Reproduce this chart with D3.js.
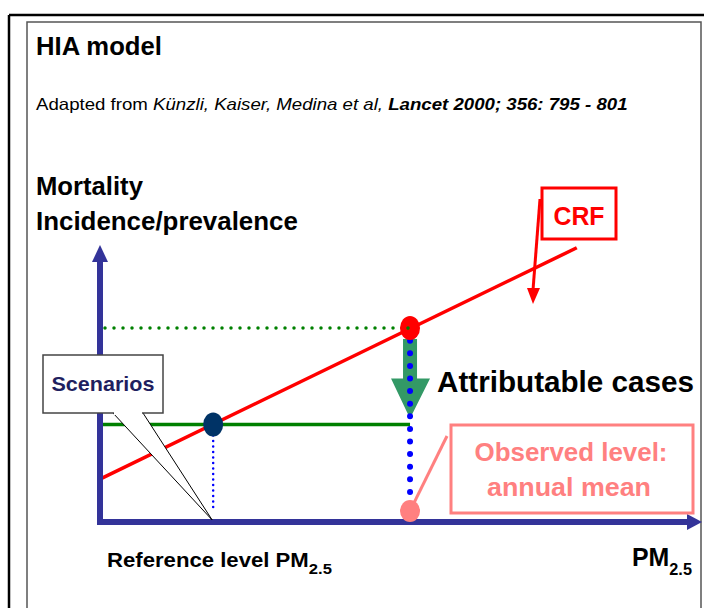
<!DOCTYPE html>
<html>
<head>
<meta charset="utf-8">
<script src="https://cdn.jsdelivr.net/npm/d3@7.9.0/dist/d3.min.js"></script>
<style>
  body { margin: 0; background: #fff; }
  svg text { font-family: "Liberation Sans", Arial, sans-serif; }
</style>
</head>
<body>
<svg id="chart"></svg>
<script>
// Data (schematic units: PM2.5 on x, health outcome on y, both 0-100)
const crfLine = [[0, 15.5], [79.2, 99]];          // concentration-response function
const referencePoint = [18.8, 35.2];               // reference level PM2.5 on the CRF
const observedPoint = [51.5, 70];                  // observed annual mean on the CRF
const observedBase = [51.5, 4];                    // observed level marker on the x axis
const axisMax = [100, 100];

const W = 704, H = 608;
const svg = d3.select("#chart").attr("width", W).attr("height", H);

// squeeze / stretch a text horizontally so it spans w pixels from its x
function fitWidth(t, w) {
    const x0 = +t.attr("x");
    const cur = t.node().getComputedTextLength();
    const sx = w / cur;
    t.attr("transform", `translate(${x0},0) scale(${sx},1) translate(${-x0},0)`);
    return t;
}

// Frame
svg.append("line").attr("x1", 9).attr("y1", 15).attr("x2", W).attr("y2", 15)
    .attr("stroke", "#000").attr("stroke-width", 2.5);
svg.append("line").attr("x1", 9).attr("y1", 15).attr("x2", 9).attr("y2", H)
    .attr("stroke", "#000").attr("stroke-width", 2.5);
svg.append("rect").attr("x", 27).attr("y", 22).attr("width", 674).attr("height", 600)
    .attr("fill", "none").attr("stroke", "#555").attr("stroke-width", 1.5);

// Scales
const x = d3.scaleLinear().domain([0, axisMax[0]]).range([100, 702]);
const y = d3.scaleLinear().domain([0, axisMax[1]]).range([522, 245]);

const axisColor = "#333399";

// Titles
fitWidth(svg.append("text").attr("x", 36).attr("y", 55)
    .style("font-size", "25px").style("font-weight", "bold")
    .text("HIA model"), 126);

const sub = svg.append("text").attr("x", 36).attr("y", 110).style("font-size", "16.5px");
sub.append("tspan").text("Adapted from ");
sub.append("tspan").style("font-style", "italic").text("Künzli, Kaiser, Medina et al, ");
sub.append("tspan").style("font-style", "italic").style("font-weight", "bold")
    .text("Lancet 2000; 356: 795 - 801");
fitWidth(sub, 592);

fitWidth(svg.append("text").attr("x", 36).attr("y", 195)
    .style("font-size", "25px").style("font-weight", "bold").text("Mortality"), 107);
fitWidth(svg.append("text").attr("x", 36).attr("y", 230)
    .style("font-size", "25px").style("font-weight", "bold").text("Incidence/prevalence"), 262);

// Guide lines
svg.append("line")
    .attr("x1", x(0) + 5).attr("y1", y(observedPoint[1]))
    .attr("x2", x(observedPoint[0])).attr("y2", y(observedPoint[1]))
    .attr("stroke", "#008000").attr("stroke-width", 3.5)
    .attr("stroke-linecap", "round").attr("stroke-dasharray", "0 9");

svg.append("line")
    .attr("x1", x(0)).attr("y1", y(referencePoint[1]))
    .attr("x2", x(observedPoint[0])).attr("y2", y(referencePoint[1]))
    .attr("stroke", "#008000").attr("stroke-width", 3.5);

// Green "attributable" arrow
const ax = x(observedPoint[0]);
const aTop = y(observedPoint[1]) + 11, aTip = y(referencePoint[1]) - 6;
const headY = aTip - 40;
svg.append("path")
    .attr("d", `M${ax - 7},${aTop} L${ax + 7},${aTop} L${ax + 7},${headY} L${ax + 20},${headY}
                L${ax},${aTip} L${ax - 19},${headY} L${ax - 7},${headY} Z`)
    .attr("fill", "#339966");

// Blue dotted verticals
svg.append("line")
    .attr("x1", x(referencePoint[0])).attr("y1", y(referencePoint[1]))
    .attr("x2", x(referencePoint[0])).attr("y2", y(0) - 10)
    .attr("stroke", "#0000ff").attr("stroke-width", 2.5)
    .attr("stroke-linecap", "round").attr("stroke-dasharray", "0 5.5");
svg.append("line")
    .attr("x1", x(observedPoint[0])).attr("y1", y(observedPoint[1]))
    .attr("x2", x(observedPoint[0])).attr("y2", y(observedBase[1]))
    .attr("stroke", "#0000ff").attr("stroke-width", 6)
    .attr("stroke-linecap", "round").attr("stroke-dasharray", "0 12.6");

// CRF line
svg.append("path")
    .datum(crfLine)
    .attr("d", d3.line().x(d => x(d[0])).y(d => y(d[1])))
    .attr("stroke", "#ff0000").attr("stroke-width", 3.5).attr("fill", "none");

// Axes
svg.append("line").attr("x1", x(0)).attr("y1", y(0)).attr("x2", x(0)).attr("y2", y(axisMax[1]) + 14)
    .attr("stroke", axisColor).attr("stroke-width", 6);
svg.append("path")
    .attr("d", `M${x(0)},${y(axisMax[1])} L${x(0) + 8},${y(axisMax[1]) + 17} L${x(0) - 8},${y(axisMax[1]) + 17} Z`)
    .attr("fill", axisColor);
svg.append("line").attr("x1", x(0) - 3).attr("y1", y(0)).attr("x2", x(axisMax[0]) - 12).attr("y2", y(0))
    .attr("stroke", axisColor).attr("stroke-width", 6);
svg.append("path")
    .attr("d", `M${x(axisMax[0])},${y(0)} L${x(axisMax[0]) - 15},${y(0) - 8} L${x(axisMax[0]) - 15},${y(0) + 8} Z`)
    .attr("fill", axisColor);

// Points
svg.append("ellipse").attr("cx", x(referencePoint[0])).attr("cy", y(referencePoint[1]))
    .attr("rx", 10).attr("ry", 12).attr("fill", "#003366");
svg.append("ellipse").attr("cx", x(observedPoint[0])).attr("cy", y(observedPoint[1]))
    .attr("rx", 10).attr("ry", 12).attr("fill", "#ff0000");
// Re-draw the guide dot over the red point
svg.append("circle").attr("cx", x(observedPoint[0]) - 2).attr("cy", y(observedPoint[1]))
    .attr("r", 1.8).attr("fill", "#008000");

// Observed level callout
svg.append("line").attr("x1", 447).attr("y1", 436).attr("x2", x(observedBase[0])).attr("y2", y(observedBase[1]))
    .attr("stroke", "#ff8080").attr("stroke-width", 3);
svg.append("ellipse").attr("cx", x(observedBase[0])).attr("cy", y(observedBase[1]))
    .attr("rx", 10).attr("ry", 11).attr("fill", "#ff8080");
svg.append("rect").attr("x", 451).attr("y", 425).attr("width", 242).attr("height", 88)
    .attr("fill", "#fff").attr("stroke", "#ff8080").attr("stroke-width", 3);
svg.append("text").attr("x", 571).attr("y", 461).attr("text-anchor", "middle")
    .style("font-size", "26px").style("font-weight", "bold").style("fill", "#ff8080")
    .attr("textLength", 193).attr("lengthAdjust", "spacingAndGlyphs").text("Observed level:");
svg.append("text").attr("x", 569).attr("y", 496).attr("text-anchor", "middle")
    .style("font-size", "26px").style("font-weight", "bold").style("fill", "#ff8080")
    .attr("textLength", 164).attr("lengthAdjust", "spacingAndGlyphs").text("annual mean");

// Attributable cases label
svg.append("text").attr("x", 437).attr("y", 392)
    .style("font-size", "30px").style("font-weight", "bold")
    .attr("textLength", 257).attr("lengthAdjust", "spacingAndGlyphs").text("Attributable cases");

// CRF callout
svg.append("line").attr("x1", 540).attr("y1", 199).attr("x2", 533).attr("y2", 290)
    .attr("stroke", "#ff0000").attr("stroke-width", 3);
svg.append("path").attr("d", "M527,288 L540,288 L533,304 Z").attr("fill", "#ff0000");
svg.append("rect").attr("x", 542).attr("y", 188).attr("width", 74).attr("height", 51)
    .attr("fill", "#fff").attr("stroke", "#ff0000").attr("stroke-width", 3);
svg.append("text").attr("x", 579).attr("y", 225).attr("text-anchor", "middle")
    .style("font-size", "26px").style("font-weight", "bold").style("fill", "#ff0000")
    .attr("textLength", 51).attr("lengthAdjust", "spacingAndGlyphs").text("CRF");

// Scenarios callout
svg.append("path")
    .attr("d", `M113,413 L${x(referencePoint[0]) - 1},520 L143,413`)
    .attr("fill", "#fff").attr("stroke", "#000").attr("stroke-width", 1);
svg.append("rect").attr("x", 43).attr("y", 355).attr("width", 120).attr("height", 58)
    .attr("fill", "#fff").attr("stroke", "#444").attr("stroke-width", 1.5);
svg.append("rect").attr("x", 114).attr("y", 412).attr("width", 28).attr("height", 3).attr("fill", "#fff");
svg.append("text").attr("x", 103).attr("y", 391).attr("text-anchor", "middle")
    .style("font-size", "21px").style("font-weight", "bold").style("fill", "#1f1f5f")
    .attr("textLength", 103).attr("lengthAdjust", "spacingAndGlyphs").text("Scenarios");

// Axis labels
const refLab = svg.append("text").attr("x", 107).attr("y", 567)
    .style("font-size", "20px").style("font-weight", "bold");
refLab.append("tspan").text("Reference level PM");
refLab.append("tspan").attr("dy", 7).style("font-size", "15px").text("2.5");
fitWidth(refLab, 225);

const pmLab = svg.append("text").attr("x", 632).attr("y", 566)
    .style("font-size", "26px").style("font-weight", "bold");
pmLab.append("tspan").text("PM");
pmLab.append("tspan").attr("dy", 9).style("font-size", "17px").text("2.5");
fitWidth(pmLab, 60);
</script>
</body>
</html>
